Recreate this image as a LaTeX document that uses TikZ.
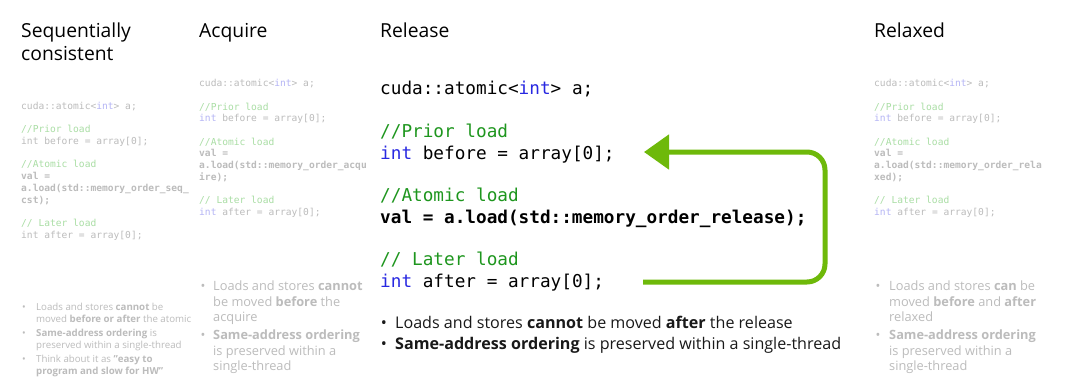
\documentclass[tikz,border=0pt]{standalone}
\usepackage{fontspec}
\setmainfont{Open Sans}
\newfontfamily\codefont{DejaVu Sans Mono}
\usetikzlibrary{arrows.meta}
\definecolor{nvgreen}{RGB}{110,185,10}
\definecolor{fadegray}{RGB}{188,188,188}
\definecolor{fadegreen}{RGB}{170,222,165}
\definecolor{fadepurple}{RGB}{180,180,245}
\definecolor{cmtgreen}{RGB}{30,150,30}
\definecolor{kwblue}{RGB}{40,40,225}
\definecolor{darktext}{RGB}{25,25,25}
\newcommand\fg[1]{\textcolor{fadegreen}{#1}}
\newcommand\fp[1]{\textcolor{fadepurple}{#1}}
\newcommand\cg[1]{\textcolor{cmtgreen}{#1}}
\newcommand\kb[1]{\textcolor{kwblue}{#1}}
\tikzset{
  title/.style={anchor=base west, inner sep=0pt, font=\fontsize{19.3}{23}\selectfont, text=black},
  fcode/.style={anchor=base west, inner sep=0pt, font=\codefont\fontsize{9.6}{11.6}\selectfont, text=fadegray},
  bcode/.style={anchor=base west, inner sep=0pt, font=\codefont\fontsize{17.7}{21.5}\selectfont, text=black},
  sbul/.style={anchor=base west, inner sep=0pt, font=\fontsize{9.7}{12}\selectfont, text=fadegray},
  mbul/.style={anchor=base west, inner sep=0pt, font=\fontsize{12.8}{15}\selectfont, text=fadegray},
  rbul/.style={anchor=base west, inner sep=0pt, font=\fontsize{16.1}{19}\selectfont, text=darktext},
  sdot/.style={anchor=base, inner sep=0pt, font=\fontsize{9.7}{12}\selectfont, text=fadegray},
  mdot/.style={anchor=base, inner sep=0pt, font=\fontsize{12.8}{15}\selectfont, text=fadegray},
  rdot/.style={anchor=base, inner sep=0pt, font=\fontsize{16.1}{19}\selectfont, text=darktext},
  flow/.style={draw=nvgreen, line width=5pt, rounded corners=18pt, -{Triangle[length=25pt,width=34pt]}}
}
\begin{document}
\begin{tikzpicture}[x=1pt,y=-1pt]
\useasboundingbox (0,0) rectangle (1080,386);
\fill[white] (0,0) rectangle (1080,386);

% ---------- titles ----------
\node[title] (t1a) at (21,37) {Sequentially};
\node[title] (t1b) at (21,60) {consistent};
\node[title] (t2) at (199,37) {Acquire};
\node[title] (t3) at (380,37) {Release};
\node[title] (t4) at (874,37) {Relaxed};

% ---------- sequentially consistent code ----------
\node[fcode] (s1) at (21,109) {cuda::atomic<\fp{int}> a;};
\node[fcode] (s2) at (21,132) {\fg{//Prior load}};
\node[fcode] (s3) at (21,144) {int before = array[0];};
\node[fcode] (s4) at (21,167) {\fg{//Atomic load}};
\node[fcode] (s5) at (21,179) {\bfseries val =};
\node[fcode] (s6) at (21,191) {\bfseries a.load(std::memory\_order\_seq\_};
\node[fcode] (s7) at (21,203) {\bfseries cst);};
\node[fcode] (s8) at (21,226) {\fg{// Later load}};
\node[fcode] (s9) at (21,238) {int after = array[0];};

% ---------- acquire code ----------
\node[fcode] (a1) at (199,86) {cuda::atomic<\fp{int}> a;};
\node[fcode] (a2) at (199,110) {\fg{//Prior load}};
\node[fcode] (a3) at (199,121) {\fp{int} before = array[0];};
\node[fcode] (a4) at (199,145) {\fg{//Atomic load}};
\node[fcode] (a5) at (199,156) {\bfseries val =};
\node[fcode] (a6) at (199,168) {\bfseries a.load(std::memory\_order\_acqu};
\node[fcode] (a7) at (199,180) {\bfseries ire);};
\node[fcode] (a8) at (199,203) {\fg{// Later load}};
\node[fcode] (a9) at (199,215) {\fp{int} after = array[0];};

% ---------- relaxed code ----------
\node[fcode] (x1) at (874,86) {cuda::atomic<\fp{int}> a;};
\node[fcode] (x2) at (874,110) {\fg{//Prior load}};
\node[fcode] (x3) at (874,121) {\fp{int} before = array[0];};
\node[fcode] (x4) at (874,145) {\fg{//Atomic load}};
\node[fcode] (x5) at (874,156) {\bfseries val =};
\node[fcode] (x6) at (874,168) {\bfseries a.load(std::memory\_order\_rela};
\node[fcode] (x7) at (874,180) {\bfseries xed);};
\node[fcode] (x8) at (874,203) {\fg{// Later load}};
\node[fcode] (x9) at (874,215) {\fp{int} after = array[0];};

% ---------- release code ----------
\node[bcode] (r1) at (380,94) {cuda::atomic<\kb{int}> a;};
\node[bcode] (r2) at (380,137) {\cg{//Prior load}};
\node[bcode] (r3) at (380,159) {\kb{int} before = array[0];};
\node[bcode] (r4) at (380,201) {\cg{//Atomic load}};
\node[bcode] (r5) at (380,223) {\bfseries val = a.load(std::memory\_order\_release);};
\node[bcode] (r6) at (380,265) {\cg{// Later load}};
\node[bcode] (r7) at (380,287) {\kb{int} after = array[0];};

% ---------- arrow ----------
\coordinate (arrS) at (643,282);
\coordinate (arrC1) at (825,282);
\coordinate (arrC2) at (825,152);
\coordinate (arrE) at (644,152);
\draw[flow] (arrS) -- (arrC1) -- (arrC2) -- (arrE);

% ---------- sequentially consistent bullets ----------
\node[sdot] (sd1) at (24,310.5) {•};
\node[sbul] (sb1) at (36,310.5) {Loads and stores \textbf{cannot} be};
\node[sbul] (sb2) at (36,322.5) {moved \textbf{before or after} the atomic};
\node[sdot] (sd2) at (24,336.5) {•};
\node[sbul] (sb3) at (36,336.5) {\textbf{Same-address ordering} is};
\node[sbul] (sb4) at (36,348) {preserved within a single-thread};
\node[sdot] (sd3) at (24,362.5) {•};
\node[sbul] (sb5) at (36,362.5) {Think about it as \textbf{"easy to}};
\node[sbul] (sb6) at (36,374) {\textbf{program and slow for HW"}};

% ---------- acquire bullets ----------
\node[mdot] (ad1) at (203,290.5) {•};
\node[mbul] (ab1) at (213,290.5) {Loads and stores \textbf{cannot}};
\node[mbul] (ab2) at (213,306.5) {be moved \textbf{before} the};
\node[mbul] (ab3) at (213,321.5) {acquire};
\node[mdot] (ad2) at (203,339.5) {•};
\node[mbul] (ab4) at (213,339.5) {\textbf{Same-address ordering}};
\node[mbul] (ab5) at (213,355.5) {is preserved within a};
\node[mbul] (ab6) at (213,370.5) {single-thread};

% ---------- relaxed bullets ----------
\node[mdot] (xd1) at (878,290.5) {•};
\node[mbul] (xb1) at (889,290.5) {Loads and stores \textbf{can} be};
\node[mbul] (xb2) at (889,306.5) {moved \textbf{before} and \textbf{after}};
\node[mbul] (xb3) at (889,321.5) {relaxed};
\node[mdot] (xd2) at (878,339.5) {•};
\node[mbul] (xb4) at (889,339.5) {\textbf{Same-address ordering}};
\node[mbul] (xb5) at (889,355.5) {is preserved within a};
\node[mbul] (xb6) at (889,370.5) {single-thread};

% ---------- release bullets ----------
\node[rdot] (rd1) at (384,328.5) {•};
\node[rbul] (rb1) at (395,328.5) {Loads and stores \textbf{cannot} be moved \textbf{after} the release};
\node[rdot] (rd2) at (384,349.5) {•};
\node[rbul] (rb2) at (395,349.5) {\textbf{Same-address ordering} is preserved within a single-thread};
\end{tikzpicture}
\end{document}
